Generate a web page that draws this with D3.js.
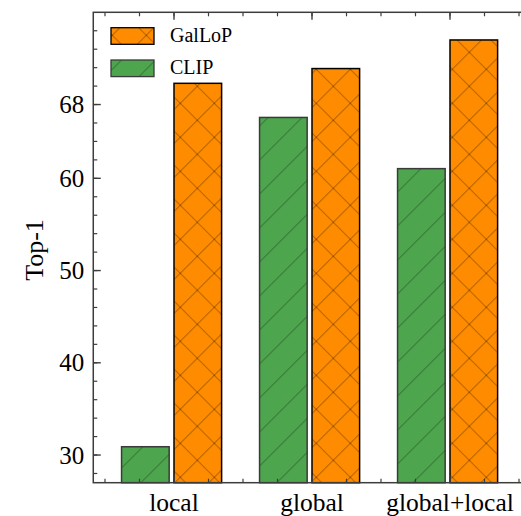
<!DOCTYPE html>
<html><head><meta charset="utf-8">
<script src="https://cdn.jsdelivr.net/npm/d3@7"></script>
<style>body{margin:0;background:#fff}svg{display:block}text{font-family:"Liberation Serif","Times New Roman",serif;fill:#000}</style>
</head><body><svg id="c" width="521" height="516"></svg>
<script>
const categories = ["local", "global", "global+local"];
const clipValues = [30.9, 66.6, 61.05];
const gallopValues = [70.3, 71.9, 75.0];
const seriesNames = ["GalLoP", "CLIP"];
const yMajorTicks = [30, 40, 50, 60, 68];
const yMinorTicks = d3.range(28, 78, 2);
const xMinorTicks = d3.range(-0.5, 2.51, 0.25);

const svg = d3.select("#c");
const x = d3.scaleLinear().domain([0, 2]).range([174, 450]);
const y = d3.scaleLinear().domain([27, 78]).range([482.7, 12.3]);
const x0 = x(-0.585), x1 = x(2.585);
const bw = 0.345, gap = 0.035;

const defs = svg.append("defs");
const d = 34;
const px = defs.append("pattern").attr("id","hx").attr("patternUnits","userSpaceOnUse")
  .attr("width",d).attr("height",d).attr("patternTransform","translate(469.3,52.3)");
px.append("path").attr("d",`M0,0L${d},${d}M0,${d}L${d},0M-2,2L2,-2M${d-2},${d+2}L${d+2},${d-2}`)
  .attr("stroke","rgba(0,0,0,0.42)").attr("stroke-width",1).attr("fill","none");
const ps = defs.append("pattern").attr("id","hs").attr("patternUnits","userSpaceOnUse")
  .attr("width",d).attr("height",d).attr("patternTransform","translate(469.3,52.3)");
ps.append("path").attr("d",`M0,${d}L${d},0M-2,2L2,-2M${d-2},${d+2}L${d+2},${d-2}`)
  .attr("stroke","rgba(0,0,0,0.38)").attr("stroke-width",1).attr("fill","none");

const green = "#4da64d", orange = "#ff8c00";

function bar(g, xa, xb, v, fill, hatch, edge) {
  const r = {x: x(xa), w: x(xb) - x(xa), y: y(v), h: y(27) - y(v)};
  g.append("rect").attr("x",r.x).attr("y",r.y).attr("width",r.w).attr("height",r.h).attr("fill",fill);
  g.append("rect").attr("x",r.x).attr("y",r.y).attr("width",r.w).attr("height",r.h).attr("fill",`url(#${hatch})`);
  g.append("rect").attr("x",r.x).attr("y",r.y).attr("width",r.w).attr("height",r.h)
    .attr("fill","none").attr("stroke",edge).attr("stroke-width",1.5);
}
const bars = svg.append("g");
categories.forEach((c,i) => {
  bar(bars, i - gap - bw, i - gap, clipValues[i], green, "hs", "#3a3a3a");
  bar(bars, i, i + bw, gallopValues[i], orange, "hx", "#000");
});

// axes
const ax = svg.append("g").attr("stroke","#3d3d3d").attr("fill","none");
ax.append("rect").attr("x",x0).attr("y",y(78)).attr("width",x1-x0).attr("height",y(27)-y(78)).attr("stroke-width",1.5);
yMinorTicks.forEach(t => ax.append("line").attr("x1",x0).attr("x2",x0+4).attr("y1",y(t)).attr("y2",y(t)).attr("stroke-width",1.2));
yMajorTicks.forEach(t => ax.append("line").attr("x1",x0).attr("x2",x0+7.5).attr("y1",y(t)).attr("y2",y(t)).attr("stroke-width",1.4));
xMinorTicks.forEach(t => {
  ax.append("line").attr("x1",x(t)).attr("x2",x(t)).attr("y1",y(78)).attr("y2",y(78)+4).attr("stroke-width",1.2);
  ax.append("line").attr("x1",x(t)).attr("x2",x(t)).attr("y1",y(27)).attr("y2",y(27)-4).attr("stroke-width",1.2);
});
categories.forEach((c,i) => {
  ax.append("line").attr("x1",x(i)).attr("x2",x(i)).attr("y1",y(78)).attr("y2",y(78)+7.5).attr("stroke-width",1.4);
  ax.append("line").attr("x1",x(i)).attr("x2",x(i)).attr("y1",y(27)).attr("y2",y(27)-7.5).attr("stroke-width",1.4);
});

// labels
yMajorTicks.forEach(t => svg.append("text").attr("x",x0-9).attr("y",y(t)).attr("dy","0.34em")
  .attr("text-anchor","end").attr("font-size",25).text(t));
categories.forEach((c,i) => svg.append("text").attr("x",x(i)).attr("y",511)
  .attr("text-anchor","middle").attr("font-size",25.5).text(c));
svg.append("text").attr("transform","translate(43,250) rotate(-90)").attr("text-anchor","middle")
  .attr("font-size",26).text("Top-1");

// legend
const leg = [{n: seriesNames[0], fill: orange, h: "hx", e: "#000", y: 27.7},
             {n: seriesNames[1], fill: green, h: "hs", e: "#3a3a3a", y: 60}];
leg.forEach(l => {
  svg.append("rect").attr("x",111).attr("y",l.y).attr("width",43).attr("height",16.6).attr("fill",l.fill);
  svg.append("rect").attr("x",111).attr("y",l.y).attr("width",43).attr("height",16.6).attr("fill",`url(#${l.h})`);
  svg.append("rect").attr("x",111).attr("y",l.y).attr("width",43).attr("height",16.6).attr("fill","none").attr("stroke",l.e).attr("stroke-width",1.3);
  svg.append("text").attr("x",170).attr("y",l.y+14.2).attr("font-size",20).text(l.n);
});
</script></body></html>
